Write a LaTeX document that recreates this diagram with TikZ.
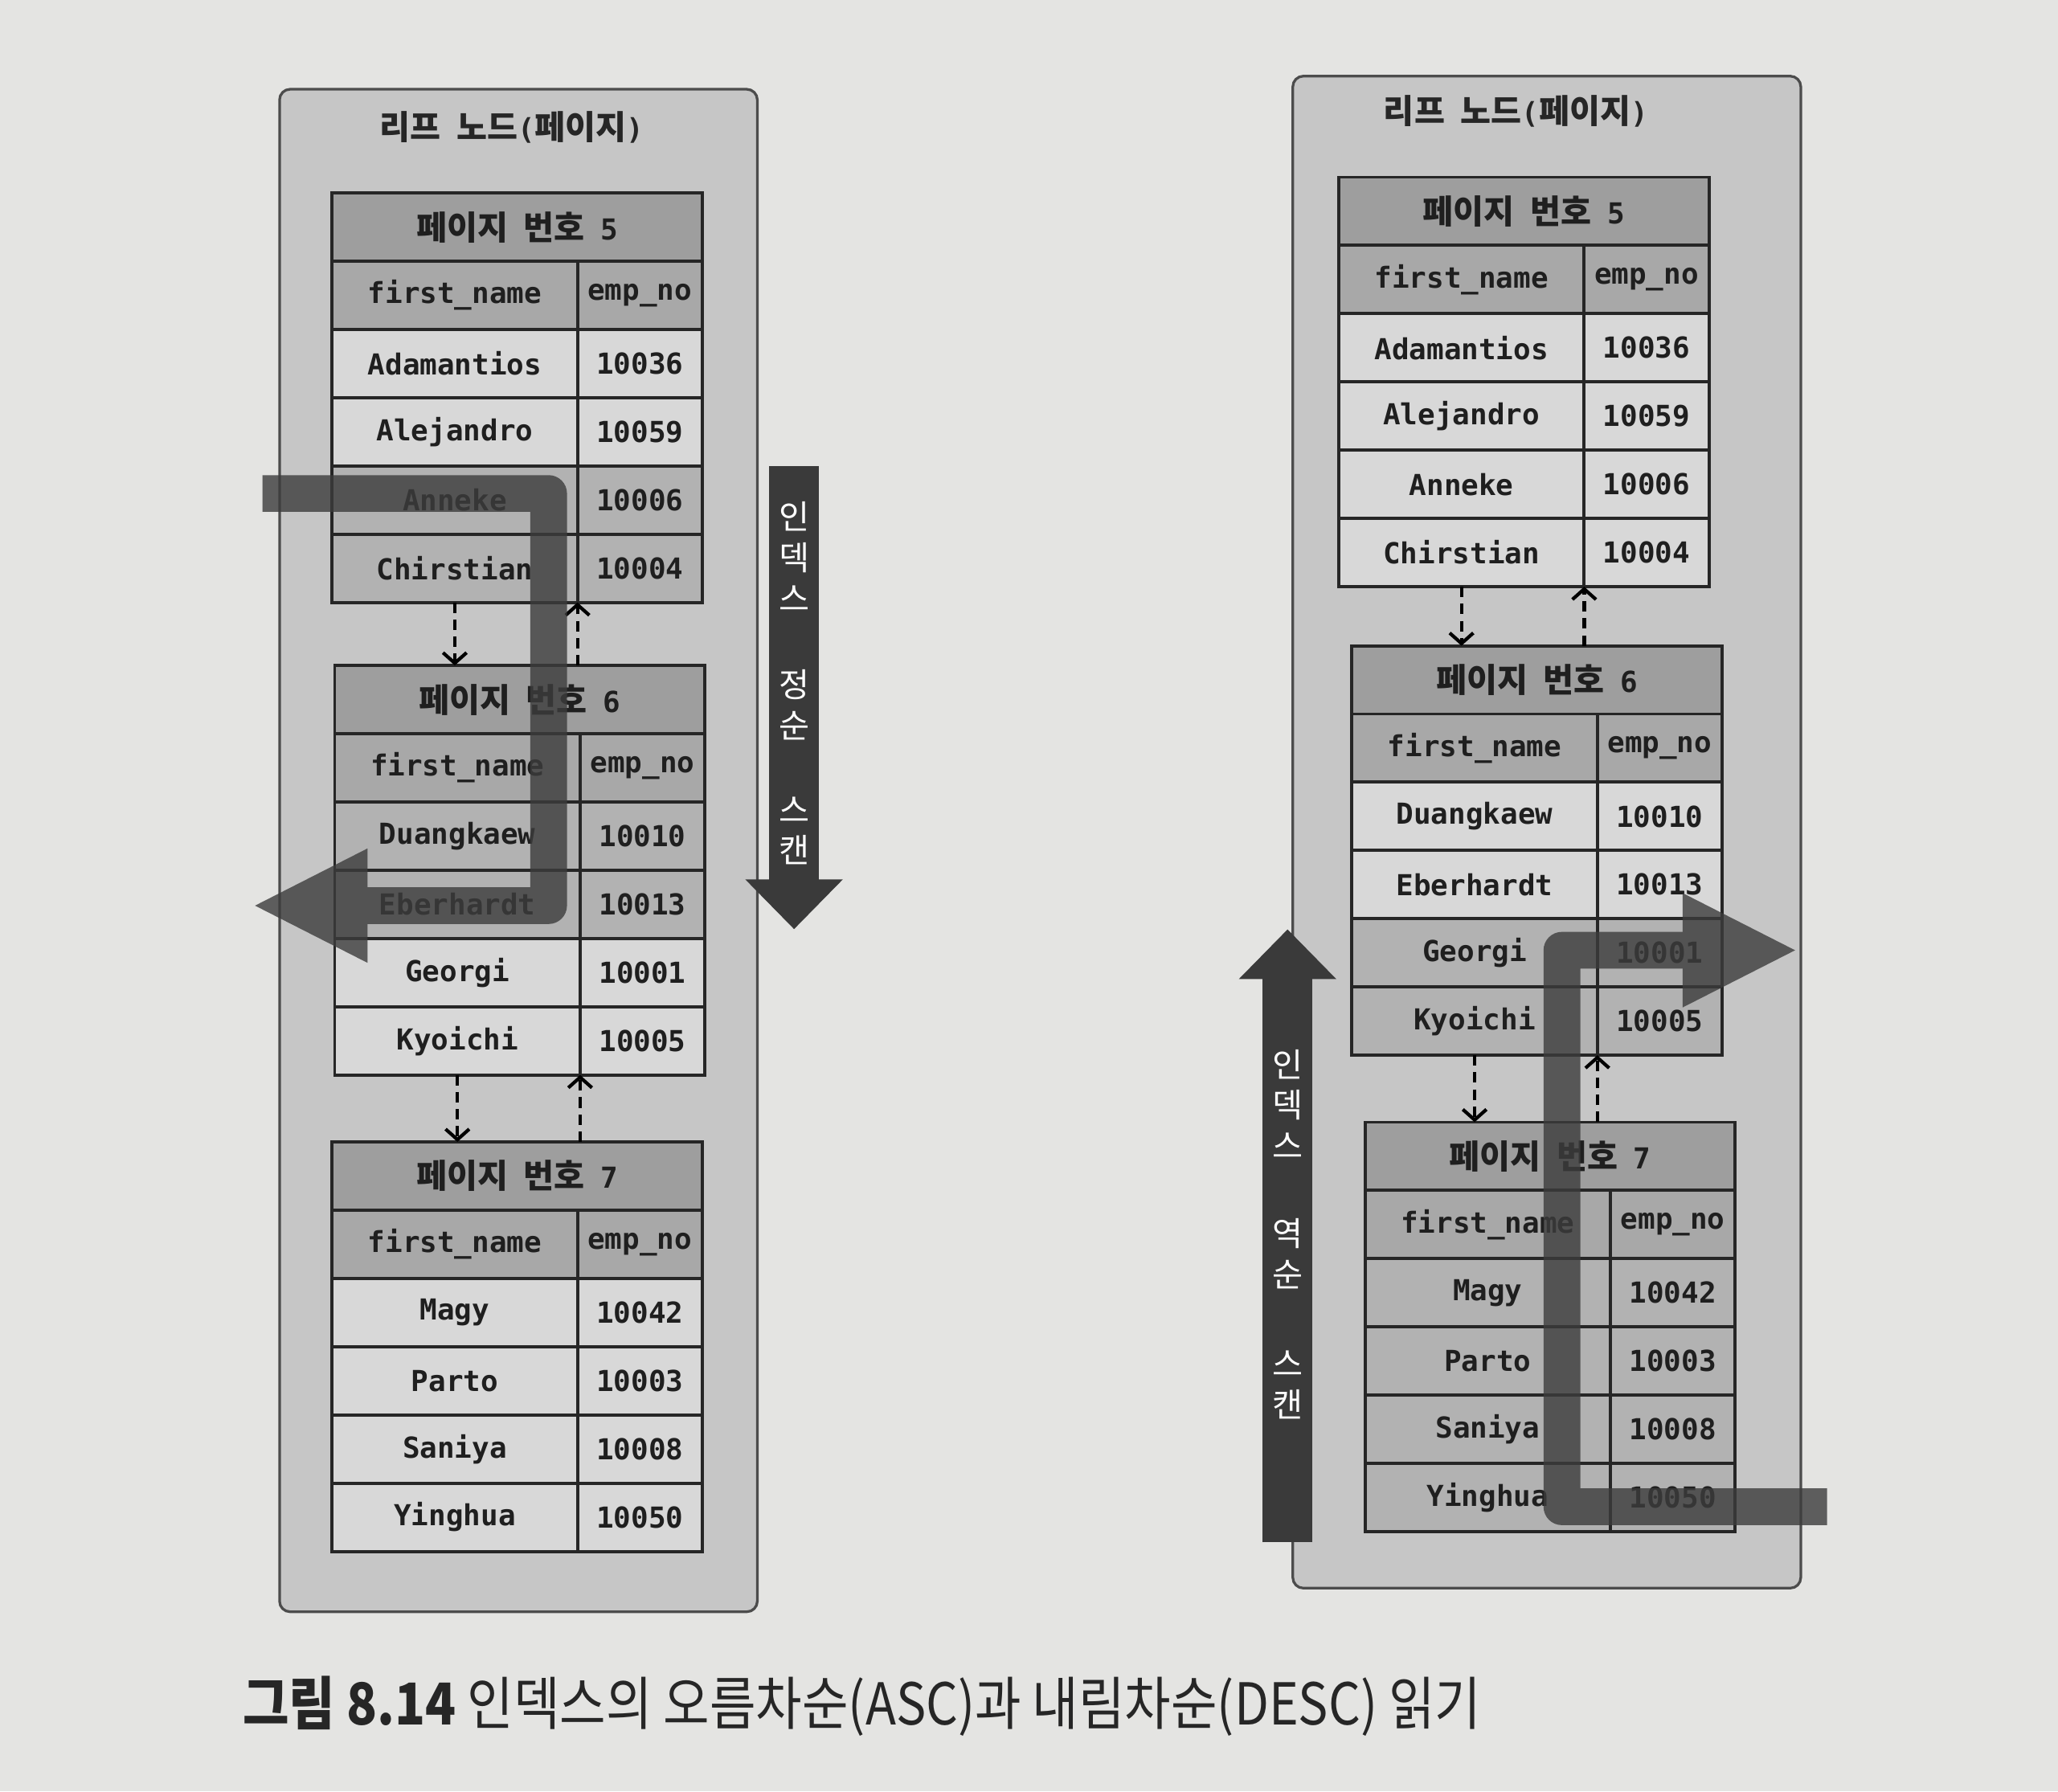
\documentclass[tikz,border=0pt]{standalone}
\usepackage{fontspec}
\usepackage{graphicx}
\setmainfont{DejaVu Sans Mono}
\newfontfamily\kr[Scale=1.15]{Noto Sans CJK KR}
\newfontfamily\capfont{Noto Sans CJK KR}
\usetikzlibrary{positioning,arrows.meta}
\definecolor{paper}{RGB}{228,228,226}
\definecolor{panelgray}{RGB}{198,198,198}
\definecolor{cellgray}{RGB}{216,216,216}
\definecolor{scangray}{RGB}{178,178,178}
\definecolor{colgray}{RGB}{168,168,168}
\definecolor{headgray}{RGB}{158,158,158}
\definecolor{scanbar}{RGB}{60,60,60}
\definecolor{dirbar}{RGB}{58,58,58}
\begin{document}
\begin{tikzpicture}[x=0.5pt,y=-0.5pt,
  cell/.style = {draw=black!85, line width=1.2pt, inner sep=0pt, outer sep=0pt, minimum height=26pt, text=black!88, font=\bfseries\fontsize{11}{13}\selectfont},
  fname/.style = {cell, minimum width=93.5pt},
  empno/.style = {cell, minimum width=47.5pt},
  pagehead/.style = {cell, minimum width=141pt, fill=headgray},
  colhead/.style = {fill=colgray},
  lite/.style = {fill=cellgray},
  dark/.style = {fill=scangray},
  panel/.style = {draw=black!70, line width=1pt, fill=panelgray, rounded corners=4pt},
  title/.style = {text=black!85, font=\bfseries\fontsize{11}{13}\selectfont},
  link/.style = {line width=1.3pt, dash pattern=on 4pt off 2.5pt, -{Straight Barb[length=4pt,width=9pt]}},
  scan/.style = {line width=14pt, draw=scanbar, line join=round, -{Triangle[length=44pt,width=40pt]}},
  dir/.style = {line width=19pt, draw=dirbar, -{Triangle[length=19pt,width=36pt]}},
  dirtext/.style = {text=white, align=center, inner sep=0pt, font=\kr\fontsize{11}{15.5}\selectfont}]

\useasboundingbox (0,0) rectangle (1568,1365);
\fill[paper] (0,0) rectangle (1568,1365);

% leaf nodes
\draw[panel] (213,68) rectangle (577,1228);
\draw[panel] (985,58) rectangle (1372,1210);
\node[title] (atitle) at (390,97) {{\kr 리프}\hspace{6pt}{\kr 노드}({\kr 페이지})};
\node[title] (dtitle) at (1155,85) {{\kr 리프}\hspace{6pt}{\kr 노드}({\kr 페이지})};

% ascending: page 5
\node[pagehead, anchor=north west] (a5h) at (253,147) {{\kr 페이지}\hspace{6pt}{\kr 번호}\hspace{6pt}5};
\node[fname, colhead, anchor=north west] (a5f0) at (a5h.south west) {first\_name};
\node[empno, colhead, right=0pt of a5f0] (a5e0) {emp\_no};
\node[fname, lite, below=0pt of a5f0] (a5f1) {Adamantios};
\node[empno, lite, right=0pt of a5f1] (a5e1) {10036};
\node[fname, lite, below=0pt of a5f1] (a5f2) {Alejandro};
\node[empno, lite, right=0pt of a5f2] (a5e2) {10059};
\node[fname, dark, below=0pt of a5f2] (a5f3) {Anneke};
\node[empno, dark, right=0pt of a5f3] (a5e3) {10006};
\node[fname, dark, below=0pt of a5f3] (a5f4) {Chirstian};
\node[empno, dark, right=0pt of a5f4] (a5e4) {10004};

% ascending: page 6
\node[pagehead, anchor=north west] (a6h) at (255,507) {{\kr 페이지}\hspace{6pt}{\kr 번호}\hspace{6pt}6};
\node[fname, colhead, anchor=north west] (a6f0) at (a6h.south west) {first\_name};
\node[empno, colhead, right=0pt of a6f0] (a6e0) {emp\_no};
\node[fname, dark, below=0pt of a6f0] (a6f1) {Duangkaew};
\node[empno, dark, right=0pt of a6f1] (a6e1) {10010};
\node[fname, dark, below=0pt of a6f1] (a6f2) {Eberhardt};
\node[empno, dark, right=0pt of a6f2] (a6e2) {10013};
\node[fname, lite, below=0pt of a6f2] (a6f3) {Georgi};
\node[empno, lite, right=0pt of a6f3] (a6e3) {10001};
\node[fname, lite, below=0pt of a6f3] (a6f4) {Kyoichi};
\node[empno, lite, right=0pt of a6f4] (a6e4) {10005};

% ascending: page 7
\node[pagehead, anchor=north west] (a7h) at (253,870) {{\kr 페이지}\hspace{6pt}{\kr 번호}\hspace{6pt}7};
\node[fname, colhead, anchor=north west] (a7f0) at (a7h.south west) {first\_name};
\node[empno, colhead, right=0pt of a7f0] (a7e0) {emp\_no};
\node[fname, lite, below=0pt of a7f0] (a7f1) {Magy};
\node[empno, lite, right=0pt of a7f1] (a7e1) {10042};
\node[fname, lite, below=0pt of a7f1] (a7f2) {Parto};
\node[empno, lite, right=0pt of a7f2] (a7e2) {10003};
\node[fname, lite, below=0pt of a7f2] (a7f3) {Saniya};
\node[empno, lite, right=0pt of a7f3] (a7e3) {10008};
\node[fname, lite, below=0pt of a7f3] (a7f4) {Yinghua};
\node[empno, lite, right=0pt of a7f4] (a7e4) {10050};

% descending: page 5
\node[pagehead, anchor=north west] (d5h) at (1020,135) {{\kr 페이지}\hspace{6pt}{\kr 번호}\hspace{6pt}5};
\node[fname, colhead, anchor=north west] (d5f0) at (d5h.south west) {first\_name};
\node[empno, colhead, right=0pt of d5f0] (d5e0) {emp\_no};
\node[fname, lite, below=0pt of d5f0] (d5f1) {Adamantios};
\node[empno, lite, right=0pt of d5f1] (d5e1) {10036};
\node[fname, lite, below=0pt of d5f1] (d5f2) {Alejandro};
\node[empno, lite, right=0pt of d5f2] (d5e2) {10059};
\node[fname, lite, below=0pt of d5f2] (d5f3) {Anneke};
\node[empno, lite, right=0pt of d5f3] (d5e3) {10006};
\node[fname, lite, below=0pt of d5f3] (d5f4) {Chirstian};
\node[empno, lite, right=0pt of d5f4] (d5e4) {10004};

% descending: page 6
\node[pagehead, anchor=north west] (d6h) at (1030,492) {{\kr 페이지}\hspace{6pt}{\kr 번호}\hspace{6pt}6};
\node[fname, colhead, anchor=north west] (d6f0) at (d6h.south west) {first\_name};
\node[empno, colhead, right=0pt of d6f0] (d6e0) {emp\_no};
\node[fname, lite, below=0pt of d6f0] (d6f1) {Duangkaew};
\node[empno, lite, right=0pt of d6f1] (d6e1) {10010};
\node[fname, lite, below=0pt of d6f1] (d6f2) {Eberhardt};
\node[empno, lite, right=0pt of d6f2] (d6e2) {10013};
\node[fname, dark, below=0pt of d6f2] (d6f3) {Georgi};
\node[empno, dark, right=0pt of d6f3] (d6e3) {10001};
\node[fname, dark, below=0pt of d6f3] (d6f4) {Kyoichi};
\node[empno, dark, right=0pt of d6f4] (d6e4) {10005};

% descending: page 7
\node[pagehead, anchor=north west] (d7h) at (1040,855) {{\kr 페이지}\hspace{6pt}{\kr 번호}\hspace{6pt}7};
\node[fname, colhead, anchor=north west] (d7f0) at (d7h.south west) {first\_name};
\node[empno, colhead, right=0pt of d7f0] (d7e0) {emp\_no};
\node[fname, dark, below=0pt of d7f0] (d7f1) {Magy};
\node[empno, dark, right=0pt of d7f1] (d7e1) {10042};
\node[fname, dark, below=0pt of d7f1] (d7f2) {Parto};
\node[empno, dark, right=0pt of d7f2] (d7e2) {10003};
\node[fname, dark, below=0pt of d7f2] (d7f3) {Saniya};
\node[empno, dark, right=0pt of d7f3] (d7e3) {10008};
\node[fname, dark, below=0pt of d7f3] (d7f4) {Yinghua};
\node[empno, dark, right=0pt of d7f4] (d7e4) {10050};

% page links
\draw[link] (a5f4.south) -- (a5f4.south |- a6h.north);
\draw[link] (a6h.north -| a5e4.south west) -- (a5e4.south west);
\draw[link] (a6f4.south) -- (a6f4.south |- a7h.north);
\draw[link] (a7h.north -| a6e4.south west) -- (a6e4.south west);
\draw[link] (d5f4.south) -- (d5f4.south |- d6h.north);
\draw[link] (d6h.north -| d5e4.south west) -- (d5e4.south west);
\draw[link] (d6f4.south) -- (d6f4.south |- d7h.north);
\draw[link] (d7h.north -| d6e4.south west) -- (d6e4.south west);

% scan paths
\coordinate (ascan0) at (200,376);
\coordinate (ascan1) at (418,376);
\coordinate (ascan2) at (418,690);
\coordinate (ascan3) at (192,690);
\coordinate (dscan0) at (1392,1148);
\coordinate (dscan1) at (1190,1148);
\coordinate (dscan2) at (1190,724);
\coordinate (dscan3) at (1370,724);
\begin{scope}[transparency group, opacity=.8]
\draw[scan] (ascan0) -- (ascan1) -- (ascan2) -- (ascan3);
\end{scope}
\begin{scope}[transparency group, opacity=.8]
\draw[scan] (dscan0) -- (dscan1) -- (dscan2) -- (dscan3);
\end{scope}

% scan direction
\coordinate (atop) at (605,355);
\coordinate (atip) at (605,708);
\coordinate (dbot) at (981,1175);
\coordinate (dtip) at (981,708);
\draw[dir] (atop) -- (atip);
\draw[dir] (dbot) -- (dtip);
\node[dirtext] (aw1) at (605,424) {인\\덱\\스};
\node[dirtext] (aw2) at (605,537) {정\\순};
\node[dirtext] (aw3) at (605,633) {스\\캔};
\node[dirtext] (dw1) at (981,841) {인\\덱\\스};
\node[dirtext] (dw2) at (981,955) {역\\순};
\node[dirtext] (dw3) at (981,1055) {스\\캔};

\node[anchor=west, text=black!85, font=\capfont\fontsize{22}{22}\selectfont] (caption) at (178,1300)
  {\scalebox{0.87}[1]{\textbf{그림 8.14} 인덱스의 오름차순(ASC)과 내림차순(DESC) 읽기}};
\end{tikzpicture}
\end{document}
